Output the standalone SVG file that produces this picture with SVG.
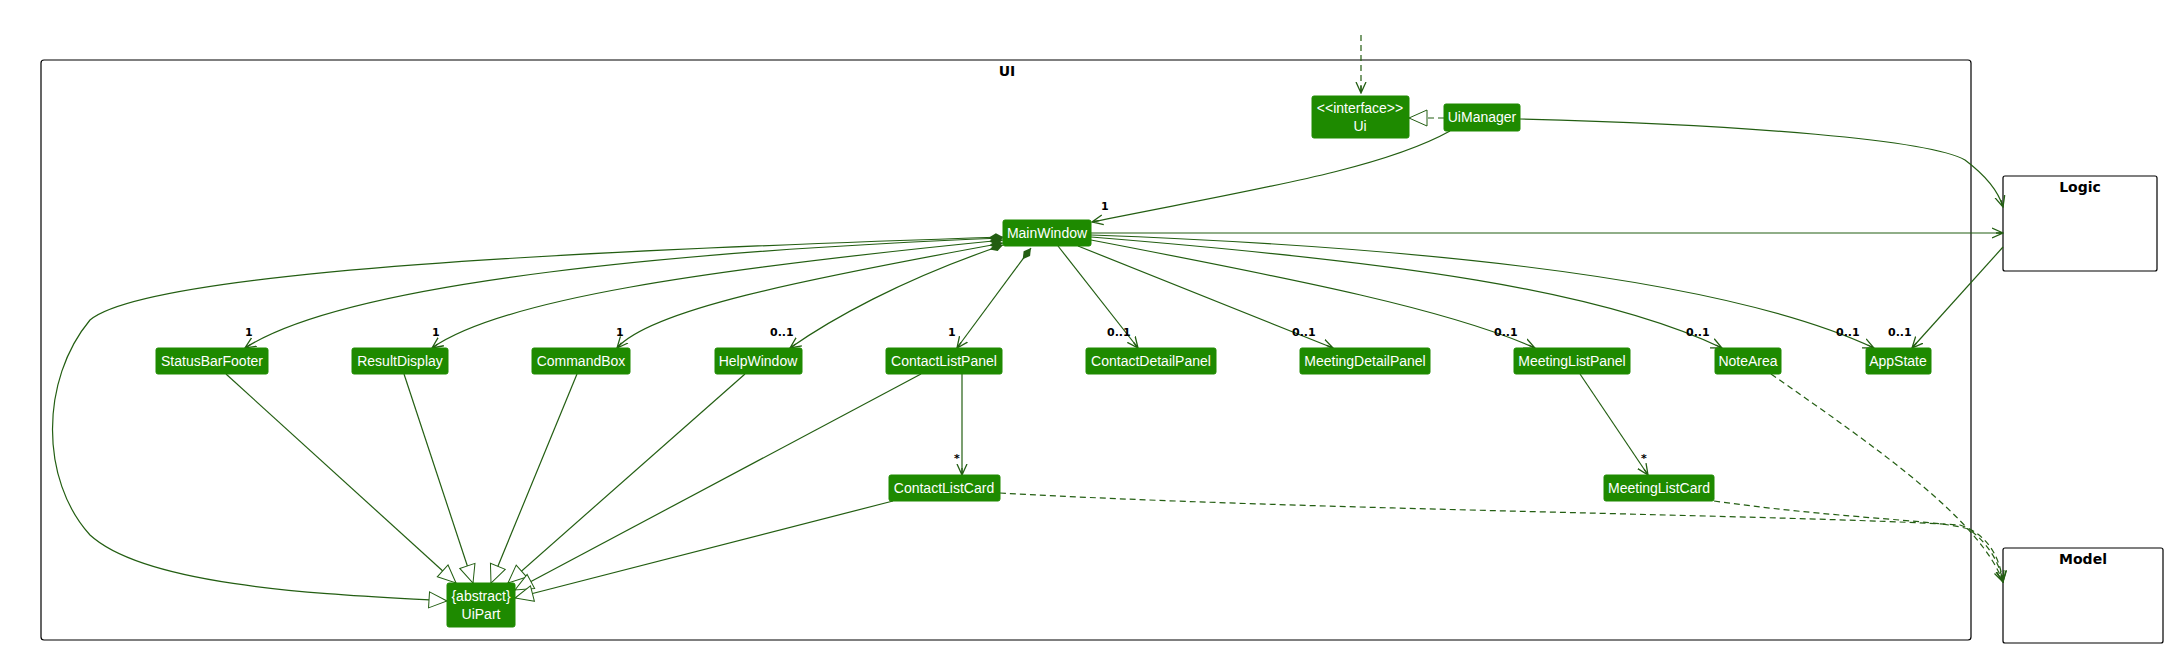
<svg xmlns="http://www.w3.org/2000/svg" width="2167" height="645" viewBox="0 0 2167 645">
<style>
.n{fill:#1E8A00;stroke:#1E8A00;}
.t{fill:#fff;font-family:"Liberation Sans",Arial,sans-serif;font-size:14px;text-anchor:middle;}
.e{fill:none;stroke:#235E12;stroke-width:1.2;}
.d{stroke-dasharray:6 4;}
.l{font-family:"DejaVu Sans",sans-serif;font-size:11px;font-weight:bold;fill:#000;}
.p{font-family:"DejaVu Sans",sans-serif;font-size:14px;font-weight:bold;fill:#000;text-anchor:middle;}
.f{fill:#fff;stroke:#000;stroke-width:1.2;}
</style>
<defs>
<marker id="a" viewBox="0 0 12 12" refX="11" refY="6" markerWidth="12" markerHeight="12" markerUnits="userSpaceOnUse" orient="auto"><path d="M0,1 L11,6 L0,11 M11,6 L4,6" fill="none" stroke="#235E12" stroke-width="1.3"/></marker>
<marker id="h" viewBox="0 0 20 20" refX="19" refY="10" markerWidth="20" markerHeight="20" markerUnits="userSpaceOnUse" orient="auto"><path d="M1,2 L19,10 L1,18 Z" fill="#fff" stroke="#235E12" stroke-width="1"/></marker>
<marker id="dm" viewBox="0 0 16 10" refX="1" refY="5" markerWidth="16" markerHeight="10" markerUnits="userSpaceOnUse" orient="auto"><path d="M1,5 L8,1 L15,5 L8,9 Z" fill="#235E12"/></marker>
</defs>
<g id="frame-ui"><rect class="f" x="41" y="60" width="1930" height="580" rx="3"/><text class="p" x="1007" y="76">UI</text></g>
<g id="logic"><rect class="f" x="2003" y="176" width="154" height="95" rx="2"/><text class="p" x="2080" y="192">Logic</text></g>
<g id="model"><rect class="f" x="2003" y="548" width="160" height="95" rx="2"/><text class="p" x="2083" y="564">Model</text></g>
<g id="connectors">
<path class="e d" d="M1361,35 L1361,93" marker-end="url(#a)"/>
<path class="e d" d="M1444,118 L1409,118" marker-end="url(#h)"/>
<path class="e" d="M1450,131 C1380,170 1250,190 1092,222" marker-end="url(#a)"/>
<path class="e" d="M1520,119 C1750,125 1930,140 1965,160 C1985,175 1998,190 2003,207" marker-end="url(#a)"/>
<path class="e" d="M1091,233 L2003,233" marker-end="url(#a)"/>
<path class="e" d="M2003,247 L1912,348" marker-end="url(#a)"/>
<path class="e" d="M1003,238 C700,250 350,280 245,348" marker-start="url(#dm)" marker-end="url(#a)"/>
<path class="e" d="M1003,240 C700,270 500,300 432,348" marker-start="url(#dm)" marker-end="url(#a)"/>
<path class="e" d="M1003,243 C800,280 650,310 617,348" marker-start="url(#dm)" marker-end="url(#a)"/>
<path class="e" d="M1003,245 C900,280 830,320 790,348" marker-start="url(#dm)" marker-end="url(#a)"/>
<path class="e" d="M1031,248 L957,348" marker-start="url(#dm)" marker-end="url(#a)"/>
<path class="e" d="M1058,246 L1138,348" marker-end="url(#a)"/>
<path class="e" d="M1078,246 L1333,348" marker-end="url(#a)"/>
<path class="e" d="M1091,240 C1300,280 1450,310 1535,348" marker-end="url(#a)"/>
<path class="e" d="M1091,237 C1400,262 1600,290 1722,348" marker-end="url(#a)"/>
<path class="e" d="M1091,235 C1500,250 1750,290 1874,348" marker-end="url(#a)"/>
<path class="e" d="M962,374 L962,475" marker-end="url(#a)"/>
<path class="e" d="M1580,374 L1648,475" marker-end="url(#a)"/>
<path class="e d" d="M1000,493 C1300,510 1800,515 1960,525 C1990,535 2000,560 2003,582" marker-end="url(#a)"/>
<path class="e d" d="M1714,501 C1850,520 1950,520 1970,530 C1990,545 2000,565 2003,582" marker-end="url(#a)"/>
<path class="e d" d="M1771,374 C1880,450 1980,520 2003,582" marker-end="url(#a)"/>
<path class="e" d="M226,374 L456,583" marker-end="url(#h)"/>
<path class="e" d="M404,374 L473,583" marker-end="url(#h)"/>
<path class="e" d="M577,374 L491,583" marker-end="url(#h)"/>
<path class="e" d="M745,374 L508,583" marker-end="url(#h)"/>
<path class="e" d="M921,374 L515,590" marker-end="url(#h)"/>
<path class="e" d="M893,501 L515,598" marker-end="url(#h)"/>
<path class="e" d="M1003,237 C600,250 150,270 90,320 C40,380 40,480 90,535 C150,590 350,595 447,601" marker-start="url(#dm)" marker-end="url(#h)"/>
<text class="l" x="1101" y="210">1</text>
<text class="l" x="245" y="336">1</text>
<text class="l" x="432" y="336">1</text>
<text class="l" x="616" y="336">1</text>
<text class="l" x="770" y="336">0..1</text>
<text class="l" x="948" y="336">1</text>
<text class="l" x="1107" y="336">0..1</text>
<text class="l" x="1292" y="336">0..1</text>
<text class="l" x="1494" y="336">0..1</text>
<text class="l" x="1686" y="336">0..1</text>
<text class="l" x="1836" y="336">0..1</text>
<text class="l" x="1888" y="336">0..1</text>
<text class="l" x="954" y="462">*</text>
<text class="l" x="1641" y="462">*</text>
</g>
<g id="Ui"><rect class="n" x="1312" y="96" width="97" height="42" rx="2"/><text class="t" x="1360" y="113">&lt;&lt;interface&gt;&gt;</text><text class="t" x="1360" y="131">Ui</text></g>
<g id="UiManager"><rect class="n" x="1444" y="104" width="76" height="27" rx="2"/><text class="t" x="1482" y="122">UiManager</text></g>
<g id="MainWindow"><rect class="n" x="1003" y="220" width="88" height="26" rx="2"/><text class="t" x="1047" y="238">MainWindow</text></g>
<g id="StatusBarFooter"><rect class="n" x="156" y="348" width="112" height="26" rx="2"/><text class="t" x="212" y="366">StatusBarFooter</text></g>
<g id="ResultDisplay"><rect class="n" x="352" y="348" width="96" height="26" rx="2"/><text class="t" x="400" y="366">ResultDisplay</text></g>
<g id="CommandBox"><rect class="n" x="532" y="348" width="98" height="26" rx="2"/><text class="t" x="581" y="366">CommandBox</text></g>
<g id="HelpWindow"><rect class="n" x="715" y="348" width="87" height="26" rx="2"/><text class="t" x="758" y="366">HelpWindow</text></g>
<g id="ContactListPanel"><rect class="n" x="886" y="348" width="116" height="26" rx="2"/><text class="t" x="944" y="366">ContactListPanel</text></g>
<g id="ContactDetailPanel"><rect class="n" x="1086" y="348" width="130" height="26" rx="2"/><text class="t" x="1151" y="366">ContactDetailPanel</text></g>
<g id="MeetingDetailPanel"><rect class="n" x="1300" y="348" width="130" height="26" rx="2"/><text class="t" x="1365" y="366">MeetingDetailPanel</text></g>
<g id="MeetingListPanel"><rect class="n" x="1514" y="348" width="116" height="26" rx="2"/><text class="t" x="1572" y="366">MeetingListPanel</text></g>
<g id="NoteArea"><rect class="n" x="1715" y="348" width="66" height="26" rx="2"/><text class="t" x="1748" y="366">NoteArea</text></g>
<g id="AppState"><rect class="n" x="1866" y="348" width="65" height="26" rx="2"/><text class="t" x="1898" y="366">AppState</text></g>
<g id="ContactListCard"><rect class="n" x="889" y="475" width="111" height="26" rx="2"/><text class="t" x="944" y="493">ContactListCard</text></g>
<g id="MeetingListCard"><rect class="n" x="1604" y="475" width="110" height="26" rx="2"/><text class="t" x="1659" y="493">MeetingListCard</text></g>
<g id="UiPart"><rect class="n" x="447" y="583" width="68" height="44" rx="2"/><text class="t" x="481" y="601">{abstract}</text><text class="t" x="481" y="619">UiPart</text></g>
</svg>
